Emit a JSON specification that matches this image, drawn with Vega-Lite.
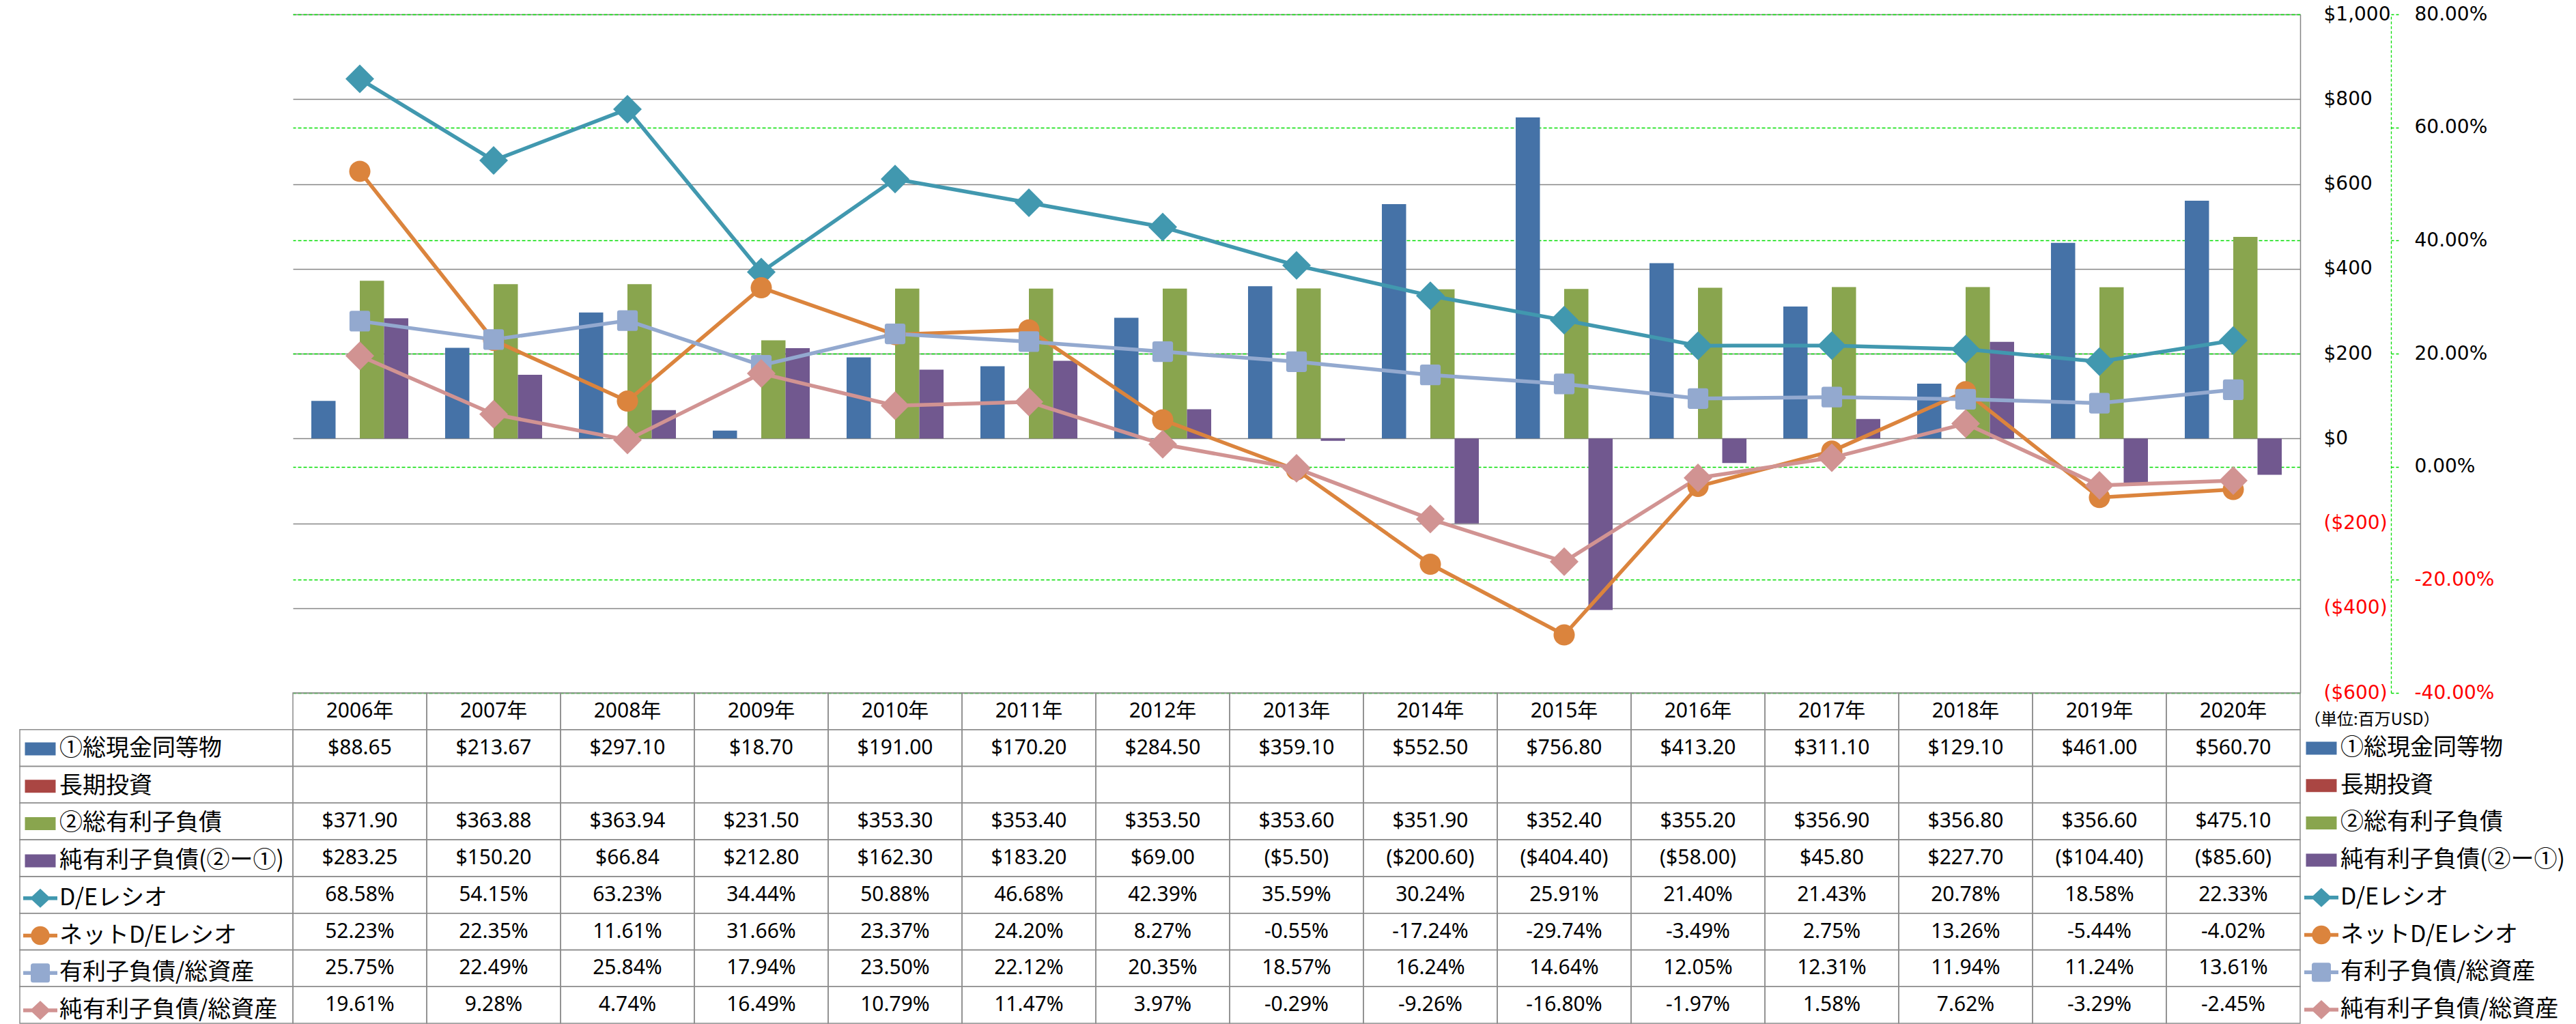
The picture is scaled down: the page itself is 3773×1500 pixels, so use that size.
{
  "$schema": "https://vega.github.io/schema/vega-lite/v6.json",
  "background": "white",
  "padding": {"left": 28, "top": 7, "right": 5, "bottom": 0},
  "config": {
    "view": {"stroke": null},
    "locale": {"number": {"decimal": ".", "thousands": ",", "grouping": [3], "currency": ["$", ""], "minus": "-"}}
  },
  "datasets": {
    "fin": [
      {"year":"2006年","series":"①総現金同等物","value":88.65},
      {"year":"2007年","series":"①総現金同等物","value":213.67},
      {"year":"2008年","series":"①総現金同等物","value":297.10},
      {"year":"2009年","series":"①総現金同等物","value":18.70},
      {"year":"2010年","series":"①総現金同等物","value":191.00},
      {"year":"2011年","series":"①総現金同等物","value":170.20},
      {"year":"2012年","series":"①総現金同等物","value":284.50},
      {"year":"2013年","series":"①総現金同等物","value":359.10},
      {"year":"2014年","series":"①総現金同等物","value":552.50},
      {"year":"2015年","series":"①総現金同等物","value":756.80},
      {"year":"2016年","series":"①総現金同等物","value":413.20},
      {"year":"2017年","series":"①総現金同等物","value":311.10},
      {"year":"2018年","series":"①総現金同等物","value":129.10},
      {"year":"2019年","series":"①総現金同等物","value":461.00},
      {"year":"2020年","series":"①総現金同等物","value":560.70},
      {"year":"2006年","series":"長期投資","value":null},
      {"year":"2007年","series":"長期投資","value":null},
      {"year":"2008年","series":"長期投資","value":null},
      {"year":"2009年","series":"長期投資","value":null},
      {"year":"2010年","series":"長期投資","value":null},
      {"year":"2011年","series":"長期投資","value":null},
      {"year":"2012年","series":"長期投資","value":null},
      {"year":"2013年","series":"長期投資","value":null},
      {"year":"2014年","series":"長期投資","value":null},
      {"year":"2015年","series":"長期投資","value":null},
      {"year":"2016年","series":"長期投資","value":null},
      {"year":"2017年","series":"長期投資","value":null},
      {"year":"2018年","series":"長期投資","value":null},
      {"year":"2019年","series":"長期投資","value":null},
      {"year":"2020年","series":"長期投資","value":null},
      {"year":"2006年","series":"②総有利子負債","value":371.90},
      {"year":"2007年","series":"②総有利子負債","value":363.88},
      {"year":"2008年","series":"②総有利子負債","value":363.94},
      {"year":"2009年","series":"②総有利子負債","value":231.50},
      {"year":"2010年","series":"②総有利子負債","value":353.30},
      {"year":"2011年","series":"②総有利子負債","value":353.40},
      {"year":"2012年","series":"②総有利子負債","value":353.50},
      {"year":"2013年","series":"②総有利子負債","value":353.60},
      {"year":"2014年","series":"②総有利子負債","value":351.90},
      {"year":"2015年","series":"②総有利子負債","value":352.40},
      {"year":"2016年","series":"②総有利子負債","value":355.20},
      {"year":"2017年","series":"②総有利子負債","value":356.90},
      {"year":"2018年","series":"②総有利子負債","value":356.80},
      {"year":"2019年","series":"②総有利子負債","value":356.60},
      {"year":"2020年","series":"②総有利子負債","value":475.10},
      {"year":"2006年","series":"純有利子負債(②ー①)","value":283.25},
      {"year":"2007年","series":"純有利子負債(②ー①)","value":150.20},
      {"year":"2008年","series":"純有利子負債(②ー①)","value":66.84},
      {"year":"2009年","series":"純有利子負債(②ー①)","value":212.80},
      {"year":"2010年","series":"純有利子負債(②ー①)","value":162.30},
      {"year":"2011年","series":"純有利子負債(②ー①)","value":183.20},
      {"year":"2012年","series":"純有利子負債(②ー①)","value":69.00},
      {"year":"2013年","series":"純有利子負債(②ー①)","value":-5.50},
      {"year":"2014年","series":"純有利子負債(②ー①)","value":-200.60},
      {"year":"2015年","series":"純有利子負債(②ー①)","value":-404.40},
      {"year":"2016年","series":"純有利子負債(②ー①)","value":-58.00},
      {"year":"2017年","series":"純有利子負債(②ー①)","value":45.80},
      {"year":"2018年","series":"純有利子負債(②ー①)","value":227.70},
      {"year":"2019年","series":"純有利子負債(②ー①)","value":-104.40},
      {"year":"2020年","series":"純有利子負債(②ー①)","value":-85.60},
      {"year":"2006年","series":"D/Eレシオ","value":0.6858},
      {"year":"2007年","series":"D/Eレシオ","value":0.5415},
      {"year":"2008年","series":"D/Eレシオ","value":0.6323},
      {"year":"2009年","series":"D/Eレシオ","value":0.3444},
      {"year":"2010年","series":"D/Eレシオ","value":0.5088},
      {"year":"2011年","series":"D/Eレシオ","value":0.4668},
      {"year":"2012年","series":"D/Eレシオ","value":0.4239},
      {"year":"2013年","series":"D/Eレシオ","value":0.3559},
      {"year":"2014年","series":"D/Eレシオ","value":0.3024},
      {"year":"2015年","series":"D/Eレシオ","value":0.2591},
      {"year":"2016年","series":"D/Eレシオ","value":0.2140},
      {"year":"2017年","series":"D/Eレシオ","value":0.2143},
      {"year":"2018年","series":"D/Eレシオ","value":0.2078},
      {"year":"2019年","series":"D/Eレシオ","value":0.1858},
      {"year":"2020年","series":"D/Eレシオ","value":0.2233},
      {"year":"2006年","series":"ネットD/Eレシオ","value":0.5223},
      {"year":"2007年","series":"ネットD/Eレシオ","value":0.2235},
      {"year":"2008年","series":"ネットD/Eレシオ","value":0.1161},
      {"year":"2009年","series":"ネットD/Eレシオ","value":0.3166},
      {"year":"2010年","series":"ネットD/Eレシオ","value":0.2337},
      {"year":"2011年","series":"ネットD/Eレシオ","value":0.2420},
      {"year":"2012年","series":"ネットD/Eレシオ","value":0.0827},
      {"year":"2013年","series":"ネットD/Eレシオ","value":-0.0055},
      {"year":"2014年","series":"ネットD/Eレシオ","value":-0.1724},
      {"year":"2015年","series":"ネットD/Eレシオ","value":-0.2974},
      {"year":"2016年","series":"ネットD/Eレシオ","value":-0.0349},
      {"year":"2017年","series":"ネットD/Eレシオ","value":0.0275},
      {"year":"2018年","series":"ネットD/Eレシオ","value":0.1326},
      {"year":"2019年","series":"ネットD/Eレシオ","value":-0.0544},
      {"year":"2020年","series":"ネットD/Eレシオ","value":-0.0402},
      {"year":"2006年","series":"有利子負債/総資産","value":0.2575},
      {"year":"2007年","series":"有利子負債/総資産","value":0.2249},
      {"year":"2008年","series":"有利子負債/総資産","value":0.2584},
      {"year":"2009年","series":"有利子負債/総資産","value":0.1794},
      {"year":"2010年","series":"有利子負債/総資産","value":0.2350},
      {"year":"2011年","series":"有利子負債/総資産","value":0.2212},
      {"year":"2012年","series":"有利子負債/総資産","value":0.2035},
      {"year":"2013年","series":"有利子負債/総資産","value":0.1857},
      {"year":"2014年","series":"有利子負債/総資産","value":0.1624},
      {"year":"2015年","series":"有利子負債/総資産","value":0.1464},
      {"year":"2016年","series":"有利子負債/総資産","value":0.1205},
      {"year":"2017年","series":"有利子負債/総資産","value":0.1231},
      {"year":"2018年","series":"有利子負債/総資産","value":0.1194},
      {"year":"2019年","series":"有利子負債/総資産","value":0.1124},
      {"year":"2020年","series":"有利子負債/総資産","value":0.1361},
      {"year":"2006年","series":"純有利子負債/総資産","value":0.1961},
      {"year":"2007年","series":"純有利子負債/総資産","value":0.0928},
      {"year":"2008年","series":"純有利子負債/総資産","value":0.0474},
      {"year":"2009年","series":"純有利子負債/総資産","value":0.1649},
      {"year":"2010年","series":"純有利子負債/総資産","value":0.1079},
      {"year":"2011年","series":"純有利子負債/総資産","value":0.1147},
      {"year":"2012年","series":"純有利子負債/総資産","value":0.0397},
      {"year":"2013年","series":"純有利子負債/総資産","value":-0.0029},
      {"year":"2014年","series":"純有利子負債/総資産","value":-0.0926},
      {"year":"2015年","series":"純有利子負債/総資産","value":-0.1680},
      {"year":"2016年","series":"純有利子負債/総資産","value":-0.0197},
      {"year":"2017年","series":"純有利子負債/総資産","value":0.0158},
      {"year":"2018年","series":"純有利子負債/総資産","value":0.0762},
      {"year":"2019年","series":"純有利子負債/総資産","value":-0.0329},
      {"year":"2020年","series":"純有利子負債/総資産","value":-0.0245}
    ]
  },
  "columns": 2,
  "spacing": 0,
  "bounds": "flush",
  "align": "each",
  "resolve": {
    "scale": {"color": "independent", "shape": "independent"},
    "legend": {"color": "independent", "shape": "independent"}
  },
  "concat": [
    {
      "width": 400, "height": 994,
      "data": {"values": []},
      "mark": "point"
    },
    {
      "width": 2940, "height": 994,
      "resolve": {"scale": {"y": "independent"}},
      "layer": [
        {
          "data": {"name": "fin"},
          "transform": [{"filter": {"field": "series", "oneOf": ["①総現金同等物", "②総有利子負債", "純有利子負債(②ー①)"]}}],
          "mark": {"type": "bar"},
          "encoding": {
            "x": {"field": "year", "type": "nominal", "scale": {"type": "band", "paddingInner": 0, "paddingOuter": 0}, "axis": null},
            "xOffset": {"field": "series", "type": "nominal", "scale": {"domain": ["①総現金同等物", "長期投資", "②総有利子負債", "純有利子負債(②ー①)"], "paddingInner": 0, "paddingOuter": 0.76}},
            "y": {
              "field": "value", "type": "quantitative",
              "scale": {"domain": [-600, 1000], "nice": false},
              "axis": {
                "orient": "right", "values": [-600, -400, -200, 0, 200, 400, 600, 800, 1000], "format": "($,.0f", "title": null,
                "ticks": false, "domain": true, "domainColor": "#868686", "domainWidth": 1.5,
                "grid": true, "gridColor": "#868686", "gridWidth": 1.3,
                "labelFont": "DejaVu Sans", "labelFontSize": 28,
                "labelColor": {"condition": {"test": "datum.value < 0", "value": "#ff0000"}, "value": "#000000"},
                "labelPadding": 34, "labelFlush": false, "labelOverlap": false, "labelBound": false, "labelAlign": "left", "labelBaseline": "middle"
              }
            },
            "color": {
              "field": "series", "type": "nominal",
              "scale": {
                "domain": ["①総現金同等物", "長期投資", "②総有利子負債", "純有利子負債(②ー①)", "D/Eレシオ", "ネットD/Eレシオ", "有利子負債/総資産", "純有利子負債/総資産"],
                "range": ["#4572A7", "#AA4643", "#89A54E", "#71588F", "#4198AF", "#DB843D", "#93A9CF", "#D19392"]
              },
              "legend": null
            }
          }
        },
        {
          "data": {"name": "fin"},
          "transform": [{"filter": {"field": "series", "oneOf": ["D/Eレシオ", "ネットD/Eレシオ", "有利子負債/総資産", "純有利子負債/総資産"]}}],
          "encoding": {
            "x": {"field": "year", "type": "nominal", "scale": {"type": "band", "paddingInner": 0, "paddingOuter": 0}, "axis": null},
            "y": {
              "field": "value", "type": "quantitative",
              "scale": {"domain": [-0.4, 0.8], "nice": false},
              "axis": {
                "orient": "right", "offset": 133, "values": [-0.4, -0.2, 0, 0.2, 0.4, 0.6, 0.8], "format": ".2%", "title": null,
                "ticks": true, "tickSize": 12, "tickColor": "#00dd00", "tickDash": [4, 3], "tickWidth": 1.3,
                "domain": true, "domainColor": "#00dd00", "domainDash": [4, 3], "domainWidth": 1.3,
                "grid": true, "gridColor": "#00dd00", "gridDash": [5, 3], "gridWidth": 1.3,
                "labelFont": "DejaVu Sans", "labelFontSize": 28,
                "labelColor": {"condition": {"test": "datum.value < 0", "value": "#ff0000"}, "value": "#000000"},
                "labelPadding": 22, "labelFlush": false, "labelOverlap": false, "labelBound": false, "labelAlign": "left", "labelBaseline": "middle"
              }
            },
            "color": {
              "field": "series", "type": "nominal",
              "scale": {
                "domain": ["①総現金同等物", "長期投資", "②総有利子負債", "純有利子負債(②ー①)", "D/Eレシオ", "ネットD/Eレシオ", "有利子負債/総資産", "純有利子負債/総資産"],
                "range": ["#4572A7", "#AA4643", "#89A54E", "#71588F", "#4198AF", "#DB843D", "#93A9CF", "#D19392"]
              },
              "legend": null
            }
          },
          "layer": [
            {"mark": {"type": "line", "strokeWidth": 5.5, "strokeJoin": "round"}},
            {
              "mark": {"type": "point", "filled": true, "opacity": 1, "size": 1764, "strokeWidth": 0},
              "encoding": {
                "shape": {
                  "field": "series", "type": "nominal",
                  "scale": {
                    "domain": ["D/Eレシオ", "ネットD/Eレシオ", "有利子負債/総資産", "純有利子負債/総資産"],
                    "range": [
                      "M-1,0L0,-1L1,0L0,1Z",
                      "M-0.74,0A0.74,0.74,0,1,1,0.74,0A0.74,0.74,0,1,1,-0.74,0Z",
                      "M-0.56,-0.72H0.56Q0.72,-0.72,0.72,-0.56V0.56Q0.72,0.72,0.56,0.72H-0.56Q-0.72,0.72,-0.72,0.56V-0.56Q-0.72,-0.72,-0.56,-0.72Z",
                      "M-1,0L0,-1L1,0L0,1Z"
                    ]
                  },
                  "legend": null
                }
              }
            }
          ]
        }
      ]
    },
    {
      "width": 400, "height": 484,
      "data": {"name": "fin"},
      "transform": [{"filter": {"field": "year", "equal": "2006年"}}],
      "layer": [
        {
          "mark": {"type": "rect", "fill": "transparent", "stroke": "#8c8c8c", "strokeWidth": 1.5},
          "encoding": {
            "y": {"field": "series", "type": "nominal", "scale": {"type": "band", "domain": ["hdr", "①総現金同等物", "長期投資", "②総有利子負債", "純有利子負債(②ー①)", "D/Eレシオ", "ネットD/Eレシオ", "有利子負債/総資産", "純有利子負債/総資産"], "paddingInner": 0, "paddingOuter": 0}, "axis": null}
          }
        },
        {
          "mark": {"type": "point", "filled": true, "opacity": 0},
          "encoding": {
            "y": {"field": "series", "type": "nominal", "scale": {"type": "band", "domain": ["hdr", "①総現金同等物", "長期投資", "②総有利子負債", "純有利子負債(②ー①)", "D/Eレシオ", "ネットD/Eレシオ", "有利子負債/総資産", "純有利子負債/総資産"], "paddingInner": 0, "paddingOuter": 0}, "axis": null},
            "color": {
              "field": "series", "type": "nominal",
              "scale": {
                "domain": ["①総現金同等物", "長期投資", "②総有利子負債", "純有利子負債(②ー①)", "D/Eレシオ", "ネットD/Eレシオ", "有利子負債/総資産", "純有利子負債/総資産"],
                "range": ["#4572A7", "#AA4643", "#89A54E", "#71588F", "#4198AF", "#DB843D", "#93A9CF", "#D19392"]
              },
              "legend": {"orient": "none", "legendX": 5, "legendY": 57, "direction": "vertical", "title": null, "padding": 0, "offset": 0, "symbolSize": 2500, "symbolStrokeWidth": 0, "symbolOpacity": 1, "labelFont": "Noto Sans CJK JP", "labelFontSize": 34, "labelColor": "#000000", "labelLimit": 1000, "labelOffset": 3, "rowPadding": 12.7}
            },
            "shape": {
              "field": "series", "type": "nominal",
              "scale": {
                "domain": ["①総現金同等物", "長期投資", "②総有利子負債", "純有利子負債(②ー①)", "D/Eレシオ", "ネットD/Eレシオ", "有利子負債/総資産", "純有利子負債/総資産"],
                "range": [
                  "M-0.9,-0.38H0.9V0.38H-0.9Z",
                  "M-0.9,-0.38H0.9V0.38H-0.9Z",
                  "M-0.9,-0.38H0.9V0.38H-0.9Z",
                  "M-0.9,-0.38H0.9V0.38H-0.9Z",
                  "M-1,-0.11H1V0.11H-1ZM-0.6,0L0,-0.56L0.6,0L0,0.56Z",
                  "M-1,-0.11H1V0.11H-1ZM-0.55,0A0.55,0.55,0,1,1,0.55,0A0.55,0.55,0,1,1,-0.55,0Z",
                  "M-1,-0.11H1V0.11H-1ZM-0.42,-0.56H0.42Q0.56,-0.56,0.56,-0.42V0.42Q0.56,0.56,0.42,0.56H-0.42Q-0.56,0.56,-0.56,0.42V-0.42Q-0.56,-0.56,-0.42,-0.56Z",
                  "M-1,-0.11H1V0.11H-1ZM-0.6,0L0,-0.56L0.6,0L0,0.56Z"
                ]
              },
              "legend": {"orient": "none", "legendX": 5, "legendY": 57, "direction": "vertical", "title": null, "padding": 0, "offset": 0, "symbolSize": 2500, "symbolStrokeWidth": 0, "symbolOpacity": 1, "labelFont": "Noto Sans CJK JP", "labelFontSize": 34, "labelColor": "#000000", "labelLimit": 1000, "labelOffset": 3, "rowPadding": 12.7}
            }
          }
        }
      ]
    },
    {
      "width": 2940, "height": 484,
      "data": {"name": "fin"},
      "layer": [
        {
          "transform": [{"filter": {"field": "series", "equal": "①総現金同等物"}}],
          "mark": {"type": "rect", "fill": "transparent", "stroke": "#8c8c8c", "strokeWidth": 1.5},
          "encoding": {
            "x": {"field": "year", "type": "nominal", "scale": {"type": "band", "paddingInner": 0, "paddingOuter": 0}, "axis": null},
            "y": {"datum": "hdr", "type": "nominal", "scale": {"type": "band", "domain": ["hdr", "①総現金同等物", "長期投資", "②総有利子負債", "純有利子負債(②ー①)", "D/Eレシオ", "ネットD/Eレシオ", "有利子負債/総資産", "純有利子負債/総資産"], "paddingInner": 0, "paddingOuter": 0}, "axis": null}
          }
        },
        {
          "transform": [{"filter": {"field": "series", "equal": "①総現金同等物"}}],
          "mark": {"type": "text", "font": "Noto Sans, Noto Sans CJK JP", "fontSize": 30, "color": "#000000"},
          "encoding": {
            "x": {"field": "year", "type": "nominal", "scale": {"type": "band", "paddingInner": 0, "paddingOuter": 0}, "axis": null},
            "y": {"datum": "hdr", "type": "nominal", "scale": {"type": "band", "domain": ["hdr", "①総現金同等物", "長期投資", "②総有利子負債", "純有利子負債(②ー①)", "D/Eレシオ", "ネットD/Eレシオ", "有利子負債/総資産", "純有利子負債/総資産"], "paddingInner": 0, "paddingOuter": 0}, "axis": null},
            "text": {"field": "year", "type": "nominal"}
          }
        },
        {
          "mark": {"type": "rect", "fill": "transparent", "stroke": "#8c8c8c", "strokeWidth": 1.5},
          "encoding": {
            "x": {"field": "year", "type": "nominal", "scale": {"type": "band", "paddingInner": 0, "paddingOuter": 0}, "axis": null},
            "y": {"field": "series", "type": "nominal", "scale": {"type": "band", "domain": ["hdr", "①総現金同等物", "長期投資", "②総有利子負債", "純有利子負債(②ー①)", "D/Eレシオ", "ネットD/Eレシオ", "有利子負債/総資産", "純有利子負債/総資産"], "paddingInner": 0, "paddingOuter": 0}, "axis": null}
          }
        },
        {
          "transform": [{"filter": {"field": "series", "oneOf": ["①総現金同等物", "②総有利子負債", "純有利子負債(②ー①)"]}}],
          "mark": {"type": "text", "font": "Noto Sans, Noto Sans CJK JP", "fontSize": 30, "color": "#000000"},
          "encoding": {
            "x": {"field": "year", "type": "nominal", "scale": {"type": "band", "paddingInner": 0, "paddingOuter": 0}, "axis": null},
            "y": {"field": "series", "type": "nominal", "scale": {"type": "band", "domain": ["hdr", "①総現金同等物", "長期投資", "②総有利子負債", "純有利子負債(②ー①)", "D/Eレシオ", "ネットD/Eレシオ", "有利子負債/総資産", "純有利子負債/総資産"], "paddingInner": 0, "paddingOuter": 0}, "axis": null},
            "text": {"field": "value", "type": "quantitative", "format": "($,.2f"}
          }
        },
        {
          "transform": [{"filter": {"field": "series", "oneOf": ["D/Eレシオ", "ネットD/Eレシオ", "有利子負債/総資産", "純有利子負債/総資産"]}}],
          "mark": {"type": "text", "font": "Noto Sans, Noto Sans CJK JP", "fontSize": 30, "color": "#000000"},
          "encoding": {
            "x": {"field": "year", "type": "nominal", "scale": {"type": "band", "paddingInner": 0, "paddingOuter": 0}, "axis": null},
            "y": {"field": "series", "type": "nominal", "scale": {"type": "band", "domain": ["hdr", "①総現金同等物", "長期投資", "②総有利子負債", "純有利子負債(②ー①)", "D/Eレシオ", "ネットD/Eレシオ", "有利子負債/総資産", "純有利子負債/総資産"], "paddingInner": 0, "paddingOuter": 0}, "axis": null},
            "text": {"field": "value", "type": "quantitative", "format": ".2%"}
          }
        },
        {
          "transform": [{"filter": {"field": "year", "equal": "2006年"}}],
          "mark": {"type": "point", "filled": true, "opacity": 0},
          "encoding": {
            "y": {"field": "series", "type": "nominal", "scale": {"type": "band", "domain": ["hdr", "①総現金同等物", "長期投資", "②総有利子負債", "純有利子負債(②ー①)", "D/Eレシオ", "ネットD/Eレシオ", "有利子負債/総資産", "純有利子負債/総資産"], "paddingInner": 0, "paddingOuter": 0}, "axis": null},
            "color": {
              "field": "series", "type": "nominal",
              "scale": {
                "domain": ["①総現金同等物", "長期投資", "②総有利子負債", "純有利子負債(②ー①)", "D/Eレシオ", "ネットD/Eレシオ", "有利子負債/総資産", "純有利子負債/総資産"],
                "range": ["#4572A7", "#AA4643", "#89A54E", "#71588F", "#4198AF", "#DB843D", "#93A9CF", "#D19392"]
              },
              "legend": {"orient": "none", "legendX": 2946, "legendY": 28, "direction": "vertical", "title": "（単位:百万USD）", "titleFont": "Noto Sans CJK JP", "titleFontSize": 24, "titleFontWeight": "normal", "titleColor": "#000000", "titlePadding": 4, "titleLimit": 1000, "padding": 0, "offset": 0, "symbolSize": 2500, "symbolStrokeWidth": 0, "symbolOpacity": 1, "labelFont": "Noto Sans CJK JP", "labelFontSize": 34, "labelColor": "#000000", "labelLimit": 1000, "labelOffset": 3, "rowPadding": 12.7}
            },
            "shape": {
              "field": "series", "type": "nominal",
              "scale": {
                "domain": ["①総現金同等物", "長期投資", "②総有利子負債", "純有利子負債(②ー①)", "D/Eレシオ", "ネットD/Eレシオ", "有利子負債/総資産", "純有利子負債/総資産"],
                "range": [
                  "M-0.9,-0.38H0.9V0.38H-0.9Z",
                  "M-0.9,-0.38H0.9V0.38H-0.9Z",
                  "M-0.9,-0.38H0.9V0.38H-0.9Z",
                  "M-0.9,-0.38H0.9V0.38H-0.9Z",
                  "M-1,-0.11H1V0.11H-1ZM-0.6,0L0,-0.56L0.6,0L0,0.56Z",
                  "M-1,-0.11H1V0.11H-1ZM-0.55,0A0.55,0.55,0,1,1,0.55,0A0.55,0.55,0,1,1,-0.55,0Z",
                  "M-1,-0.11H1V0.11H-1ZM-0.42,-0.56H0.42Q0.56,-0.56,0.56,-0.42V0.42Q0.56,0.56,0.42,0.56H-0.42Q-0.56,0.56,-0.56,0.42V-0.42Q-0.56,-0.56,-0.42,-0.56Z",
                  "M-1,-0.11H1V0.11H-1ZM-0.6,0L0,-0.56L0.6,0L0,0.56Z"
                ]
              },
              "legend": {"orient": "none", "legendX": 2946, "legendY": 28, "direction": "vertical", "title": "（単位:百万USD）", "titleFont": "Noto Sans CJK JP", "titleFontSize": 24, "titleFontWeight": "normal", "titleColor": "#000000", "titlePadding": 4, "titleLimit": 1000, "padding": 0, "offset": 0, "symbolSize": 2500, "symbolStrokeWidth": 0, "symbolOpacity": 1, "labelFont": "Noto Sans CJK JP", "labelFontSize": 34, "labelColor": "#000000", "labelLimit": 1000, "labelOffset": 3, "rowPadding": 12.7}
            }
          }
        }
      ]
    }
  ]
}
